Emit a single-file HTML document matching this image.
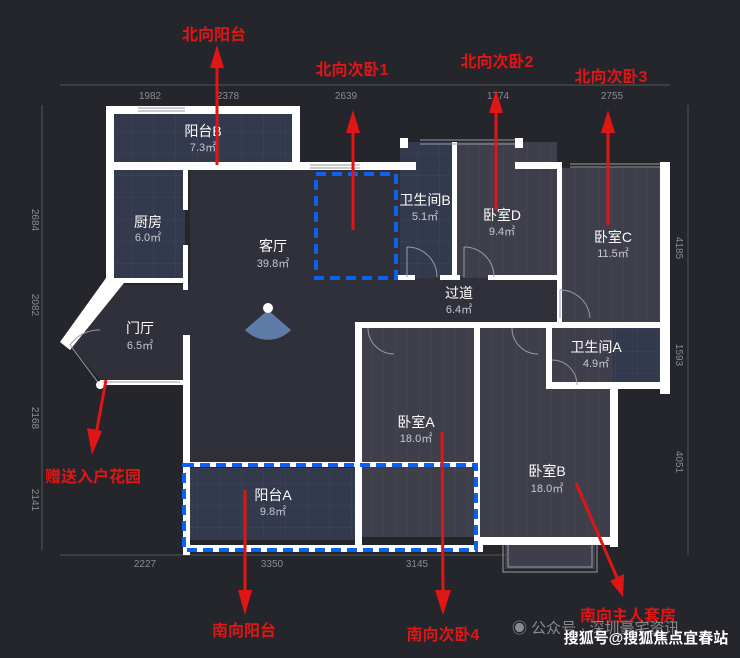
<!DOCTYPE html>
<html><head><meta charset="utf-8"><style>
html,body{margin:0;padding:0;background:#25262b;}
svg{display:block}
text{font-family:"Liberation Sans","Noto Sans CJK SC",sans-serif}
</style></head><body>
<svg width="740" height="658" viewBox="0 0 740 658" xmlns="http://www.w3.org/2000/svg">
<defs>
<pattern id="tile" width="22" height="22" patternUnits="userSpaceOnUse"><rect width="22" height="22" fill="#343a4d"/><path d="M22 0V22H0" fill="none" stroke="#404659" stroke-width="1"/></pattern>
<pattern id="wood" width="12" height="40" patternUnits="userSpaceOnUse"><rect width="12" height="40" fill="#3f3f4c"/><path d="M12 0V40" stroke="#474756" stroke-width="1"/></pattern>
</defs>
<rect width="740" height="658" fill="#25262b"/>
<g stroke="#55565d" stroke-width="1" fill="none">
<line x1="60" y1="85" x2="670" y2="85"/>
<line x1="60" y1="555" x2="520" y2="555"/>
<line x1="42" y1="105" x2="42" y2="550"/>
<line x1="688" y1="105" x2="688" y2="555"/>
</g>
<g fill="#8a8b92" font-size="10" text-anchor="middle">
<text x="150" y="99">1982</text><text x="228" y="99">2378</text><text x="346" y="99">2639</text><text x="498" y="99">1774</text><text x="612" y="99">2755</text>
<text x="145" y="567">2227</text><text x="272" y="567">3350</text><text x="417" y="567">3145</text><text x="528" y="567">3640</text>
<text transform="translate(32,220) rotate(90)">2684</text><text transform="translate(32,305) rotate(90)">2082</text>
<text transform="translate(32,418) rotate(90)">2168</text><text transform="translate(32,500) rotate(90)">2141</text>
<text transform="translate(676,248) rotate(90)">4185</text><text transform="translate(676,355) rotate(90)">1593</text>
<text transform="translate(676,462) rotate(90)">4051</text>
</g>
<rect x="113" y="113" width="182" height="52" fill="url(#tile)"/>
<rect x="113" y="170" width="72" height="110" fill="url(#tile)"/>
<path d="M190 170 H400 V278 H560 V322 H358 V465 H190 V385 H105 L70 345 L120 285 H190z" fill="#2f3039"/>
<rect x="400" y="142" width="55" height="136" fill="url(#tile)"/>
<rect x="457" y="142" width="100" height="136" fill="url(#wood)"/>
<rect x="560" y="168" width="103" height="155" fill="url(#wood)"/>
<rect x="552" y="327" width="111" height="58" fill="url(#tile)"/>
<rect x="362" y="327" width="113" height="210" fill="url(#wood)"/>
<rect x="480" y="327" width="132" height="212" fill="url(#wood)"/>
<rect x="505" y="539" width="90" height="30" fill="#3f3f4c"/>
<rect x="190" y="468" width="168" height="72" fill="url(#tile)"/>
<g fill="#ffffff">
<rect x="106" y="106" width="194" height="8"/>
<rect x="106" y="106" width="8" height="176"/>
<rect x="292" y="106" width="8" height="62"/>
<rect x="106" y="162" width="310" height="8"/>
<rect x="183" y="170" width="5" height="40"/><rect x="183" y="245" width="5" height="45"/>
<rect x="113" y="278" width="75" height="5"/>
<polygon points="106,278 124,283 70,350 60,342"/>
<rect x="100" y="380" width="90" height="5"/>
<rect x="183" y="335" width="7" height="220"/>
<rect x="183" y="545" width="300" height="7"/>
<rect x="400" y="138" width="8" height="10"/>
<rect x="515" y="138" width="8" height="10"/>
<rect x="452" y="142" width="5" height="136"/>
<rect x="515" y="162" width="45" height="7"/>
<rect x="557" y="162" width="5" height="165"/>
<rect x="660" y="162" width="10" height="232"/>
<rect x="395" y="275" width="20" height="5"/><rect x="440" y="275" width="20" height="5"/><rect x="488" y="275" width="70" height="5"/>
<rect x="355" y="322" width="315" height="6"/>
<rect x="355" y="322" width="7" height="225"/>
<rect x="474" y="322" width="6" height="225"/>
<rect x="546" y="322" width="6" height="62"/>
<rect x="546" y="382" width="124" height="7"/>
<rect x="610" y="385" width="8" height="162"/>
<rect x="478" y="537" width="140" height="8"/>
<rect x="190" y="462" width="290" height="5"/>
</g>
<g stroke="#9a9ba3" stroke-width="1" fill="none">
<path d="M138 108H185M138 111H185M310 165H360M310 168H360M420 140H515M420 144H515M570 164H660M570 167H660M503 545V572H597V545M508 545V567H592V545M100 382H180"/>
</g>
<g stroke="#9a9ba3" stroke-width="1" fill="none">
<path d="M407 247 A30 30 0 0 1 437 277M407 247V277"/>
<path d="M464 247 A30 30 0 0 1 494 277M464 247V277"/>
<path d="M560 290 A30 30 0 0 1 590 318M560 290V318"/>
<path d="M368 328 A26 26 0 0 0 394 354"/><path d="M512 328 A26 26 0 0 0 538 354"/>
<path d="M552 360 A25 25 0 0 1 577 385"/>
<path d="M70 345 L100 385 M70 345 A35 35 0 0 1 100 330"/>
</g>
<circle cx="100" cy="385" r="4" fill="#fff"/>
<path d="M268 310 L245 330 A32 32 0 0 0 291 330z" fill="#5f7ca8"/><circle cx="268" cy="308" r="5" fill="#fff"/>
<g stroke="#1060f0" stroke-width="4" fill="none" stroke-dasharray="10,6">
<rect x="316" y="174" width="80" height="104"/>
<path d="M184 465H476V550H184z"/>
</g>
<g fill="#ffffff" text-anchor="middle" font-size="14">
<text x="203" y="136">阳台B</text><text x="148" y="227">厨房</text><text x="273" y="251">客厅</text>
<text x="140" y="333">门厅</text><text x="425" y="205">卫生间B</text><text x="502" y="220">卧室D</text>
<text x="613" y="242">卧室C</text><text x="459" y="298">过道</text><text x="596" y="352">卫生间A</text>
<text x="416" y="427">卧室A</text><text x="547" y="476">卧室B</text><text x="273" y="500">阳台A</text>
</g>
<g fill="#c8c9d0" text-anchor="middle" font-size="11">
<text x="203" y="151">7.3㎡</text><text x="148" y="241">6.0㎡</text><text x="273" y="267">39.8㎡</text>
<text x="140" y="349">6.5㎡</text><text x="425" y="220">5.1㎡</text><text x="502" y="235">9.4㎡</text>
<text x="613" y="257">11.5㎡</text><text x="459" y="313">6.4㎡</text><text x="596" y="367">4.9㎡</text>
<text x="416" y="442">18.0㎡</text><text x="547" y="492">18.0㎡</text><text x="273" y="515">9.8㎡</text>
</g>
<g stroke="#e01515" stroke-width="3" fill="#e01515">
<line x1="217" y1="165" x2="217" y2="60"/><polygon points="210,68 217,45 224,68" stroke="none"/>
<line x1="353" y1="230" x2="353" y2="125"/><polygon points="346,133 353,110 360,133" stroke="none"/>
<line x1="496" y1="210" x2="496" y2="105"/><polygon points="489,113 496,90 503,113" stroke="none"/>
<line x1="608" y1="225" x2="608" y2="125"/><polygon points="601,133 608,110 615,133" stroke="none"/>
<line x1="106" y1="380" x2="95" y2="440"/><polygon points="87,428 92,455 102,431" stroke="none"/>
<line x1="245" y1="490" x2="245" y2="600"/><polygon points="238,590 245,615 252,590" stroke="none"/>
<line x1="442" y1="432" x2="443" y2="600"/><polygon points="435,590 443,615 451,590" stroke="none"/>
<line x1="576" y1="483" x2="618" y2="580"/><polygon points="610,581 623,597 624,574" stroke="none"/>
</g>
<g fill="#e01515" font-size="16" font-weight="bold" text-anchor="middle">
<text x="214" y="40">北向阳台</text><text x="352" y="75">北向次卧1</text><text x="497" y="67">北向次卧2</text>
<text x="611" y="82">北向次卧3</text><text x="93" y="482">赠送入户花园</text><text x="244" y="636">南向阳台</text>
<text x="443" y="640">南向次卧4</text><text x="628" y="621">南向主人套房</text>
</g>
<text x="512" y="633" fill="#8a8b92" font-size="15">◉ 公众号 · 深圳豪宅资讯</text>
<text x="646" y="643" fill="#ffffff" font-size="15" font-weight="bold" text-anchor="middle">搜狐号@搜狐焦点宜春站</text>
</svg>
</body></html>
